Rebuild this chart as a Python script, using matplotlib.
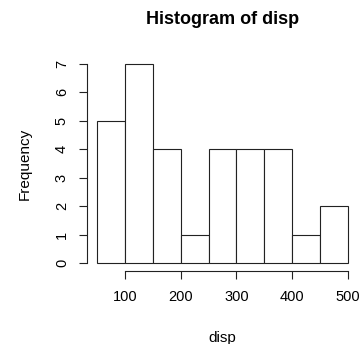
import matplotlib
matplotlib.use('Agg')
import matplotlib.pyplot as plt

# histogram of mtcars disp, as R draws it
bin_edges = [50, 100, 150, 200, 250, 300, 350, 400, 450, 500]
counts = [5, 7, 4, 1, 4, 4, 4, 1, 2]
x_ticks = [100, 200, 300, 400, 500]
y_ticks = [0, 1, 2, 3, 4, 5, 6, 7]

plt.rcParams['font.family'] = ['Liberation Sans', 'DejaVu Sans']

fig = plt.figure(figsize=(3.6, 3.44), dpi=100)
ax = fig.add_axes([87 / 360, 1 - 271 / 344, 271 / 360, 215 / 344])

widths = [b - a for a, b in zip(bin_edges[:-1], bin_edges[1:])]
ax.bar(bin_edges[:-1], counts, width=widths, align='edge',
       facecolor='white', edgecolor='#222222', linewidth=0.8)

ax.set_xlim(32, 518)
ax.set_ylim(-0.28, 7.28)

for s in ['top', 'right']:
    ax.spines[s].set_visible(False)
ax.spines['left'].set_bounds(0, 7)
ax.spines['bottom'].set_bounds(100, 500)
for s in ['left', 'bottom']:
    ax.spines[s].set_linewidth(0.8)
    ax.spines[s].set_color('#222222')

ax.set_xticks(x_ticks)
ax.set_yticks(y_ticks)
ax.set_yticklabels([str(v) for v in y_ticks], rotation=90, va='center')
ax.tick_params(axis='both', length=6, width=0.8, color='#222222',
               labelsize=10.5)
ax.tick_params(axis='x', pad=8)
ax.tick_params(axis='y', pad=7)

ax.set_title('Histogram of disp', fontsize=13, fontweight='bold', pad=23)
ax.set_xlabel('disp', fontsize=11, labelpad=19)
ax.set_ylabel('Frequency', fontsize=11, labelpad=17)

fig.savefig('out.png', dpi=100)
